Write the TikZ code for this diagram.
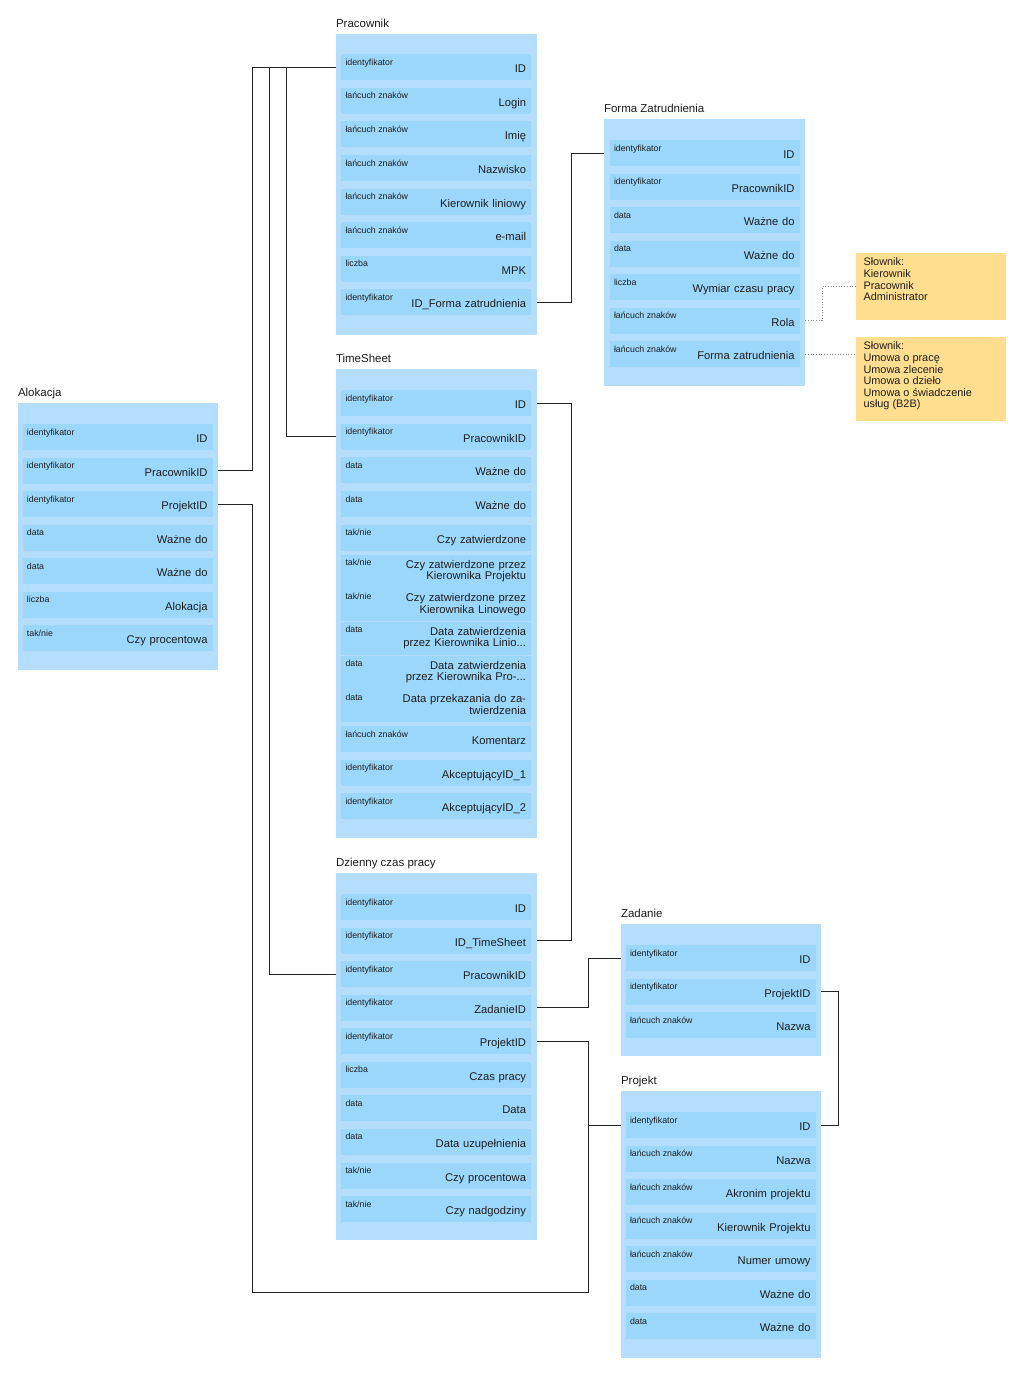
\documentclass[tikz,border=0pt]{standalone}
\usepackage{fontspec}
\setmainfont{Liberation Sans}
\usetikzlibrary{positioning,calc}
\definecolor{TabBlue}{RGB}{181,221,253}
\definecolor{RowBlue}{RGB}{155,215,251}
\definecolor{NoteYellow}{RGB}{255,222,143}
\definecolor{InkGray}{RGB}{30,30,30}
\tikzset{
  tab/.style={rectangle,fill=TabBlue,inner sep=0pt},
  ttl/.style={anchor=base west,inner sep=0pt,yshift=6pt,text=InkGray,font=\fontsize{11.5}{13}\selectfont},
  typ/.style={anchor=north west,inner sep=0pt,xshift=4.5pt,yshift=-5pt,text=InkGray,font=\fontsize{8.8}{10}\selectfont},
  row/.style={rectangle,fill=RowBlue,minimum width=190pt,minimum height=26pt,inner xsep=5pt,inner ysep=0pt,
    text width=180pt,align=right,text=InkGray,font=\fontsize{11.2}{11.5}\selectfont,
    execute at begin node={\rule[-2.5pt]{0pt}{16pt}}},
  dwa/.style={execute at end node={\rule[-8pt]{0pt}{0pt}}},
}
\tikzset{tid/.style={row,label={[typ]north west:identyfikator}}, tstr/.style={row,label={[typ]north west:łańcuch znaków}},
  tdata/.style={row,label={[typ]north west:data}}, tnum/.style={row,label={[typ]north west:liczba}},
  tbool/.style={row,label={[typ]north west:tak/nie}},
  note/.style={rectangle,fill=NoteYellow,inner sep=0pt},
  notetxt/.style={anchor=north west,inner sep=0pt,align=left,text=InkGray,font=\fontsize{10.9}{11.6}\selectfont},
  conn/.style={draw=black!85,line width=0.9pt},hint/.style={draw=black!45,line width=0.7pt,dotted}}

\begin{document}
\begin{tikzpicture}[x=1pt,y=-1pt]
\useasboundingbox (0,0) rectangle (1024,1377);
\fill[white] (0,0) rectangle (1024,1377);
\coordinate (busA) at (252,0);
\coordinate (busB) at (269,0);
\coordinate (busC) at (286,0);
\coordinate (busD) at (571,0);
\coordinate (busE) at (588,0);
\coordinate (busG) at (822,0);
\coordinate (busF) at (838,0);
\coordinate (dol) at (0,1292);
% tables
\node[tab,minimum width=201pt,minimum height=301pt,label={[ttl]north west:Pracownik}] (prac) at (436.5,184.5) {};
\node[tab,minimum width=201pt,minimum height=267pt,label={[ttl]north west:Forma Zatrudnienia}] (forma) at (704.5,252.5) {};
\node[tab,minimum width=201pt,minimum height=469pt,label={[ttl]north west:TimeSheet}] (ts) at (436.5,603.5) {};
\node[tab,minimum width=200pt,minimum height=267pt,label={[ttl]north west:Alokacja}] (alok) at (118,536.5) {};
\node[tab,minimum width=201pt,minimum height=367pt,label={[ttl]north west:Dzienny czas pracy}] (dz) at (436.5,1056.5) {};
\node[tab,minimum width=200pt,minimum height=132pt,label={[ttl]north west:Zadanie}] (zad) at (721,990) {};
\node[tab,minimum width=200pt,minimum height=267pt,label={[ttl]north west:Projekt}] (proj) at (721,1224.5) {};
% Pracownik
\node[tid] (pracID) at (436,67) {ID};
\node[tstr] (pracLogin) at (436,100.5) {Login};
\node[tstr] (pracImie) at (436,134) {Imię};
\node[tstr] (pracNazw) at (436,168) {Nazwisko};
\node[tstr] (pracKier) at (436,201.5) {Kierownik liniowy};
\node[tstr] (pracMail) at (436,235) {e-mail};
\node[tnum] (pracMPK) at (436,268.5) {MPK};
\node[tid] (pracForma) at (436,302) {ID\_Forma zatrudnienia};
% Forma Zatrudnienia
\node[tid] (formaID) at (704.5,153) {ID};
\node[tid] (formaPrac) at (704.5,186.5) {PracownikID};
\node[tdata] (formaWaz1) at (704.5,220) {Ważne do};
\node[tdata] (formaWaz2) at (704.5,253.5) {Ważne do};
\node[tnum] (formaWym) at (704.5,287) {Wymiar czasu pracy};
\node[tstr] (formaRola) at (704.5,320.5) {Rola};
\node[tstr] (formaForma) at (704.5,354) {Forma zatrudnienia};
% TimeSheet
\node[tid] (tsID) at (436,403) {ID};
\node[tid] (tsPrac) at (436,436.5) {PracownikID};
\node[tdata] (tsWaz1) at (436,470) {Ważne do};
\node[tdata] (tsWaz2) at (436,504) {Ważne do};
\node[tbool] (tsZatw) at (436,537.5) {Czy zatwierdzone};
\node[tbool,dwa] (tsZatwKP) at (436,571) {Czy zatwierdzone przez\\Kierownika Projektu};
\node[tbool,dwa] (tsZatwKL) at (436,604.5) {Czy zatwierdzone przez\\Kierownika Linowego};
\node[tdata,dwa] (tsDataKL) at (436,638) {Data zatwierdzenia\\przez Kierownika Linio...};
\node[tdata,dwa] (tsDataKP) at (436,672) {Data zatwierdzenia\\przez Kierownika Pro-...};
\node[tdata,dwa] (tsDataPrz) at (436,705.5) {Data przekazania do za-\\twierdzenia};
\node[tstr] (tsKom) at (436,739) {Komentarz};
\node[tid] (tsAkc1) at (436,772.5) {AkceptującyID\_1};
\node[tid] (tsAkc2) at (436,806) {AkceptującyID\_2};
% Alokacja
\node[tid] (alokID) at (117.5,437) {ID};
\node[tid] (alokPrac) at (117.5,470.5) {PracownikID};
\node[tid] (alokProj) at (117.5,504) {ProjektID};
\node[tdata] (alokWaz1) at (117.5,537.5) {Ważne do};
\node[tdata] (alokWaz2) at (117.5,571) {Ważne do};
\node[tnum] (alokAlok) at (117.5,604.5) {Alokacja};
\node[tbool] (alokProc) at (117.5,638) {Czy procentowa};
% Dzienny czas pracy
\node[tid] (dzID) at (436,907) {ID};
\node[tid] (dzTS) at (436,940.5) {ID\_TimeSheet};
\node[tid] (dzPrac) at (436,974) {PracownikID};
\node[tid] (dzZad) at (436,1007.5) {ZadanieID};
\node[tid] (dzProj) at (436,1041) {ProjektID};
\node[tnum] (dzCzas) at (436,1074.5) {Czas pracy};
\node[tdata] (dzData) at (436,1108) {Data};
\node[tdata] (dzUzup) at (436,1141.5) {Data uzupełnienia};
\node[tbool] (dzProc) at (436,1175.5) {Czy procentowa};
\node[tbool] (dzNadg) at (436,1209) {Czy nadgodziny};
% Zadanie
\node[tid] (zadID) at (720.5,958) {ID};
\node[tid] (zadProj) at (720.5,991.5) {ProjektID};
\node[tstr] (zadNazwa) at (720.5,1025) {Nazwa};
% Projekt
\node[tid] (projID) at (720.5,1125) {ID};
\node[tstr] (projNazwa) at (720.5,1158.5) {Nazwa};
\node[tstr] (projAkr) at (720.5,1192) {Akronim projektu};
\node[tstr] (projKier) at (720.5,1225.5) {Kierownik Projektu};
\node[tstr] (projUmowa) at (720.5,1259) {Numer umowy};
\node[tdata] (projWaz1) at (720.5,1292.5) {Ważne do};
\node[tdata] (projWaz2) at (720.5,1326) {Ważne do};
% slowniki
\node[note,minimum width=150pt,minimum height=67pt] (slow1) at (931,286.5) {};
\node[notetxt] at ([shift={(7.5,5)}]slow1.north west) {Słownik:\\Kierownik\\Pracownik\\Administrator};
\node[note,minimum width=150pt,minimum height=84pt] (slow2) at (931,379) {};
\node[notetxt] at ([shift={(7.5,5)}]slow2.north west) {Słownik:\\Umowa o pracę\\Umowa zlecenie\\Umowa o dzieło\\Umowa o świadczenie\\usług (B2B)};
% relations
\draw[conn] (alokPrac -| alok.east) -| (busA |- pracID) -- (pracID -| prac.west);
\draw[conn] (tsPrac -| ts.west) -| (busC |- pracID);
\draw[conn] (dzPrac -| dz.west) -| (busB |- pracID);
\draw[conn] (pracForma -| prac.east) -| (busD |- formaID) -- (formaID -| forma.west);
\draw[conn] (tsID -| ts.east) -| (busD |- dzTS) -- (dzTS -| dz.east);
\draw[conn] (dzZad -| dz.east) -| (busE |- zadID) -- (zadID -| zad.west);
\draw[conn] (dzProj -| dz.east) -| (busE |- projID) -- (projID -| proj.west);
\draw[conn] (alokProj -| alok.east) -| (busA |- dol) -| (busE |- projID);
\draw[conn] (zadProj -| zad.east) -| (busF |- projID) -- (projID -| proj.east);
\draw[hint] (formaRola -| forma.east) -| (busG |- slow1) -- (slow1.west);
\draw[hint] (formaForma -| forma.east) -- (formaForma -| slow2.west);
\end{tikzpicture}
\end{document}
